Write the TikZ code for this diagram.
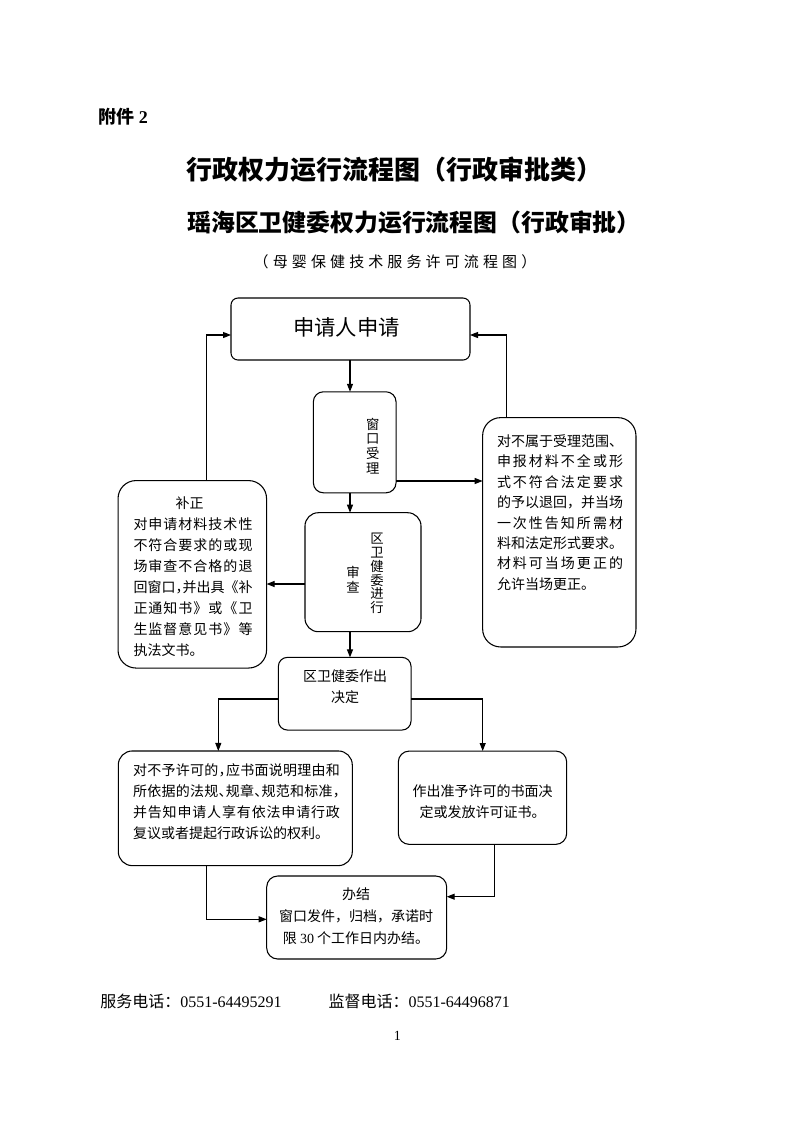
\documentclass[tikz,border=0pt]{standalone}
\usepackage{fontspec}
\setmainfont{Liberation Serif}
\newfontfamily\cjk{Noto Sans CJK SC}
\usetikzlibrary{arrows.meta,calc}
\makeatletter
\newcommand\jl[2]{\hbox to #1{\@tfor\jl@c:=#2\do{\jl@c\hskip 0pt plus 1fil}\hskip 0pt plus -1fil}}
\makeatother
\newcommand\hp[1]{\makebox[0.5em][l]{#1}}
\tikzset{
  bx/.style={draw, line width=0.8pt, inner sep=0pt, outer sep=0pt},
  arr/.style={line width=0.8pt, -{Triangle[length=6pt,width=4.5pt]}},
  txt/.style={inner sep=0pt, outer sep=0pt, font=\cjk\fontsize{10.5}{15.75}\selectfont},
}
\begin{document}
\begin{tikzpicture}[x=0.75pt,y=-0.75pt]
\fill[white] (0,0) rectangle (793,1122);
\useasboundingbox (0,0) rectangle (793,1122);

% headings
\node[anchor=west, inner sep=0pt, font=\fontsize{13.5}{16}\selectfont] (annex) at (98,117) {{\cjk\bfseries 附件} \textbf{2}};
\node[anchor=west, inner sep=0pt, font=\cjk\bfseries\fontsize{19.5}{22}\selectfont] (title) at (186,170) {行政权力运行流程图（行政审批类）};
\node[anchor=west, inner sep=0pt, font=\cjk\bfseries\fontsize{17.9}{20}\selectfont] (subtitle) at (187,222) {瑶海区卫健委权力运行流程图（行政审批）};
\node[inner sep=0pt, font=\cjk\fontsize{11.25}{14}\selectfont] (subtitle2) at (395,262) {\jl{212pt}{（母婴保健技术服务许可流程图）}};

% boxes
\node[bx, minimum width=179.25pt, minimum height=46.5pt, rounded corners=5.25pt] (apply) at (350.5,329) {};
\node[bx, minimum width=62pt, minimum height=75.75pt, rounded corners=7.5pt] (window) at (354.7,442.3) {};
\node[bx, minimum width=87pt, minimum height=89.25pt, rounded corners=10pt] (review) at (363,572.2) {};
\node[bx, minimum width=115pt, minimum height=172pt, rounded corners=13.5pt] (reject) at (559.3,532.3) {};
\node[bx, minimum width=111.4pt, minimum height=140.6pt, rounded corners=13.5pt] (fix) at (192.3,574.3) {};
\node[bx, minimum width=99.5pt, minimum height=54.5pt, rounded corners=6.75pt] (decision) at (344.7,693.7) {};
\node[bx, minimum width=175.5pt, minimum height=86pt, rounded corners=10.5pt] (deny) at (235.3,808.3) {};
\node[bx, minimum width=126.3pt, minimum height=70pt, rounded corners=8.25pt] (grant) at (482.5,797.7) {};
\node[bx, minimum width=135pt, minimum height=62.25pt, rounded corners=8.25pt] (done) at (356.7,917.5) {};

% texts in boxes
\node[txt, font=\cjk\fontsize{16}{19}\selectfont] (tapply) at (346.5,327) {申请人申请};
\node[txt, font=\cjk\fontsize{10}{11}\selectfont, align=center] (twindow) at (372.7,446) {窗\\口\\受\\理};
\node[txt, font=\cjk\fontsize{10}{10.35}\selectfont, align=center] (treview1) at (377,573.5) {区\\卫\\健\\委\\进\\行};
\node[txt, font=\cjk\fontsize{10}{11.25}\selectfont, align=center] (treview2) at (353,579.5) {审\\查};
\node[txt, font=\cjk\fontsize{10.5}{15.3}\selectfont, align=left, anchor=west] (treject) at (497,512.5) {\jl{94.5pt}{对不属于受理范围、}\\\jl{94.5pt}{申报材料不全或形}\\\jl{94.5pt}{式不符合法定要求}\\\jl{94.5pt}{的予以退回，并当场}\\\jl{94.5pt}{一次性告知所需材}\\\jl{94.5pt}{料和法定形式要求。}\\\jl{94.5pt}{材料可当场更正的}\\允许当场更正。};
\node[txt, font=\cjk\fontsize{10.5}{15.75}\selectfont, align=left, anchor=west] (tfix) at (133.5,576.5) {\hbox to 89.25pt{\hfil 补正\hskip 5pt\hfil}\\\jl{89.25pt}{对申请材料技术性}\\\jl{89.25pt}{不符合要求的或现}\\\jl{89.25pt}{场审查不合格的退}\\\jl{89.25pt}{回窗口{\hp{，}}并出具《补}\\\jl{89.25pt}{正通知书》或《卫}\\\jl{89.25pt}{生监督意见书》等}\\执法文书。};
\node[txt, align=center] (tdecision) at (345,686.5) {区卫健委作出\\决定};
\node[txt, font=\cjk\fontsize{10.5}{15.8}\selectfont, align=left, anchor=west] (tdeny) at (133,801.7) {\jl{155.25pt}{对不予许可的{\hp{，}}应书面说明理由和}\\\jl{155.25pt}{所依据的法规{\hp{、}}规章{\hp{、}}规范和标准{\hp{，}}}\\\jl{155.25pt}{并告知申请人享有依法申请行政}\\复议或者提起行政诉讼的权利。};
\node[txt, align=center] (tgrant) at (482.5,801.5) {作出准予许可的书面决\\定或发放许可证书。};
\node[txt, font=\cjk\fontsize{10.5}{16.4}\selectfont, align=center] (tdone) at (356,915.9) {办结\\窗口发件，归档，承诺时\\限 {\rmfamily 30} 个工作日内办结。};

% helper coordinates
\coordinate (cx) at (350,0);
\coordinate (ytop) at (0,335);
\coordinate (xr) at (506.7,0);
\coordinate (xl) at (206.7,0);
\coordinate (ywin) at (0,481);
\coordinate (yrev) at (0,584);
\coordinate (ydec) at (0,699);
\coordinate (xdl) at (218.3,0);
\coordinate (xdr) at (482.7,0);
\coordinate (ybl) at (0,919.3);
\coordinate (xbr) at (494.7,0);
\coordinate (ybr) at (0,896.7);

% connectors
\draw[arr] (apply.south -| cx) -- (window.north -| cx);
\draw[arr] (window.south -| cx) -- (review.north -| cx);
\draw[arr] (review.south -| cx) -- (decision.north -| cx);
\draw[arr] (window.east |- ywin) -- (reject.west |- ywin);
\draw[arr] (reject.north -| xr) |- (apply.east |- ytop);
\draw[arr] (fix.north -| xl) |- (apply.west |- ytop);
\draw[arr] (review.west |- yrev) -- (fix.east |- yrev);
\draw[arr] (decision.west |- ydec) -| (deny.north -| xdl);
\draw[arr] (decision.east |- ydec) -| (grant.north -| xdr);
\draw[arr] (deny.south -| xl) |- (done.west |- ybl);
\draw[arr] (grant.south -| xbr) |- (done.east |- ybr);

% footer
\node[anchor=west, inner sep=0pt, font=\fontsize{12}{14}\selectfont] (phone1) at (100,1001.7) {{\cjk 服务电话：}0551-64495291};
\node[anchor=west, inner sep=0pt, font=\fontsize{12}{14}\selectfont] (phone2) at (328.3,1001.7) {{\cjk 监督电话：}0551-64496871};
\node[inner sep=0pt, font=\fontsize{10.5}{12}\selectfont] (page) at (397.3,1036) {1};
\end{tikzpicture}
\end{document}
